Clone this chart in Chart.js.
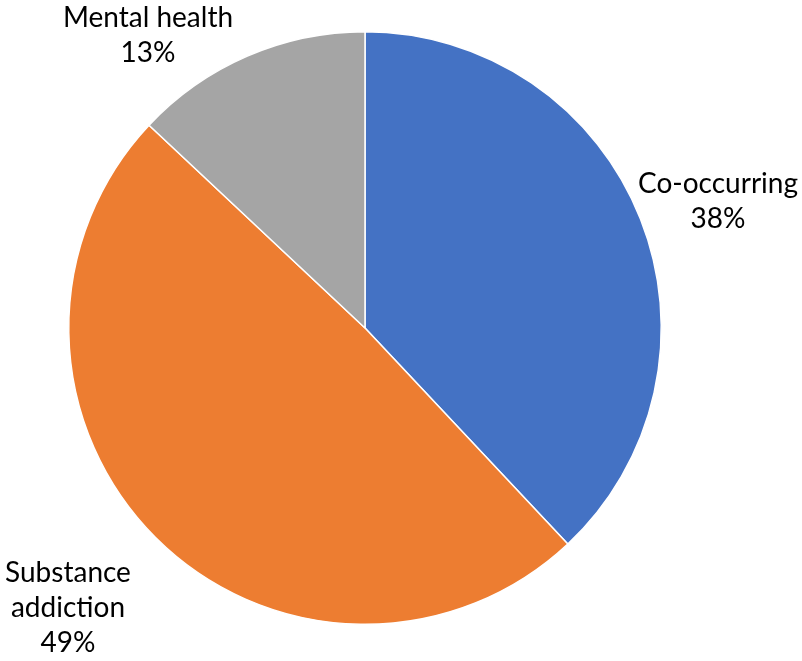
<!DOCTYPE html>
<html>
<head>
<meta charset="utf-8">
<script src="https://cdn.jsdelivr.net/npm/chart.js@4.4.0/dist/chart.umd.min.js"></script>
<style>
  html, body { margin: 0; padding: 0; background: #fff; }
  #wrap { width: 802px; height: 661px; }
</style>
</head>
<body>
<div id="wrap"><canvas id="myChart" width="802" height="661"></canvas></div>
<script>
const categories = ['Co-occurring', 'Substance addiction', 'Mental health'];
const shares = [38, 49, 13];
const colors = ['#4472C4', '#ED7D31', '#A5A5A5'];
// label text lines, offset from pie centre (px) of first baseline
const labelLines = [['Co-occurring', '38%'], ['Substance', 'addiction', '49%'], ['Mental health', '13%']];
const labelOffsets = [[353, -135], [-297, 254], [-217, -301]];

const labelPlugin = {
    id: 'sliceLabels',
    afterDatasetsDraw(chart) {
        const ctx = chart.ctx;
        const arcs = chart.getDatasetMeta(0).data;
        ctx.save();
        ctx.fillStyle = '#000';
        ctx.font = '28px Lato, "Open Sans", sans-serif';
        ctx.textAlign = 'center';
        ctx.textBaseline = 'alphabetic';
        arcs.forEach((arc, i) => {
            const [dx, dy] = labelOffsets[i];
            labelLines[i].forEach((line, j) => {
                ctx.fillText(line, arc.x + dx, arc.y + dy + j * 35);
            });
        });
        ctx.restore();
    }
};

new Chart(document.getElementById('myChart'), {
    type: 'pie',
    data: {
        labels: categories,
        datasets: [{
            data: shares,
            backgroundColor: colors,
            borderColor: '#fff',
            borderWidth: 1.5
        }]
    },
    options: {
        responsive: false,
        animation: false,
        layout: { padding: { left: 68, right: 140, top: 31, bottom: 36 } },
        plugins: {
            legend: { display: false },
            tooltip: { enabled: false }
        }
    },
    plugins: [labelPlugin]
});
</script>
</body>
</html>
